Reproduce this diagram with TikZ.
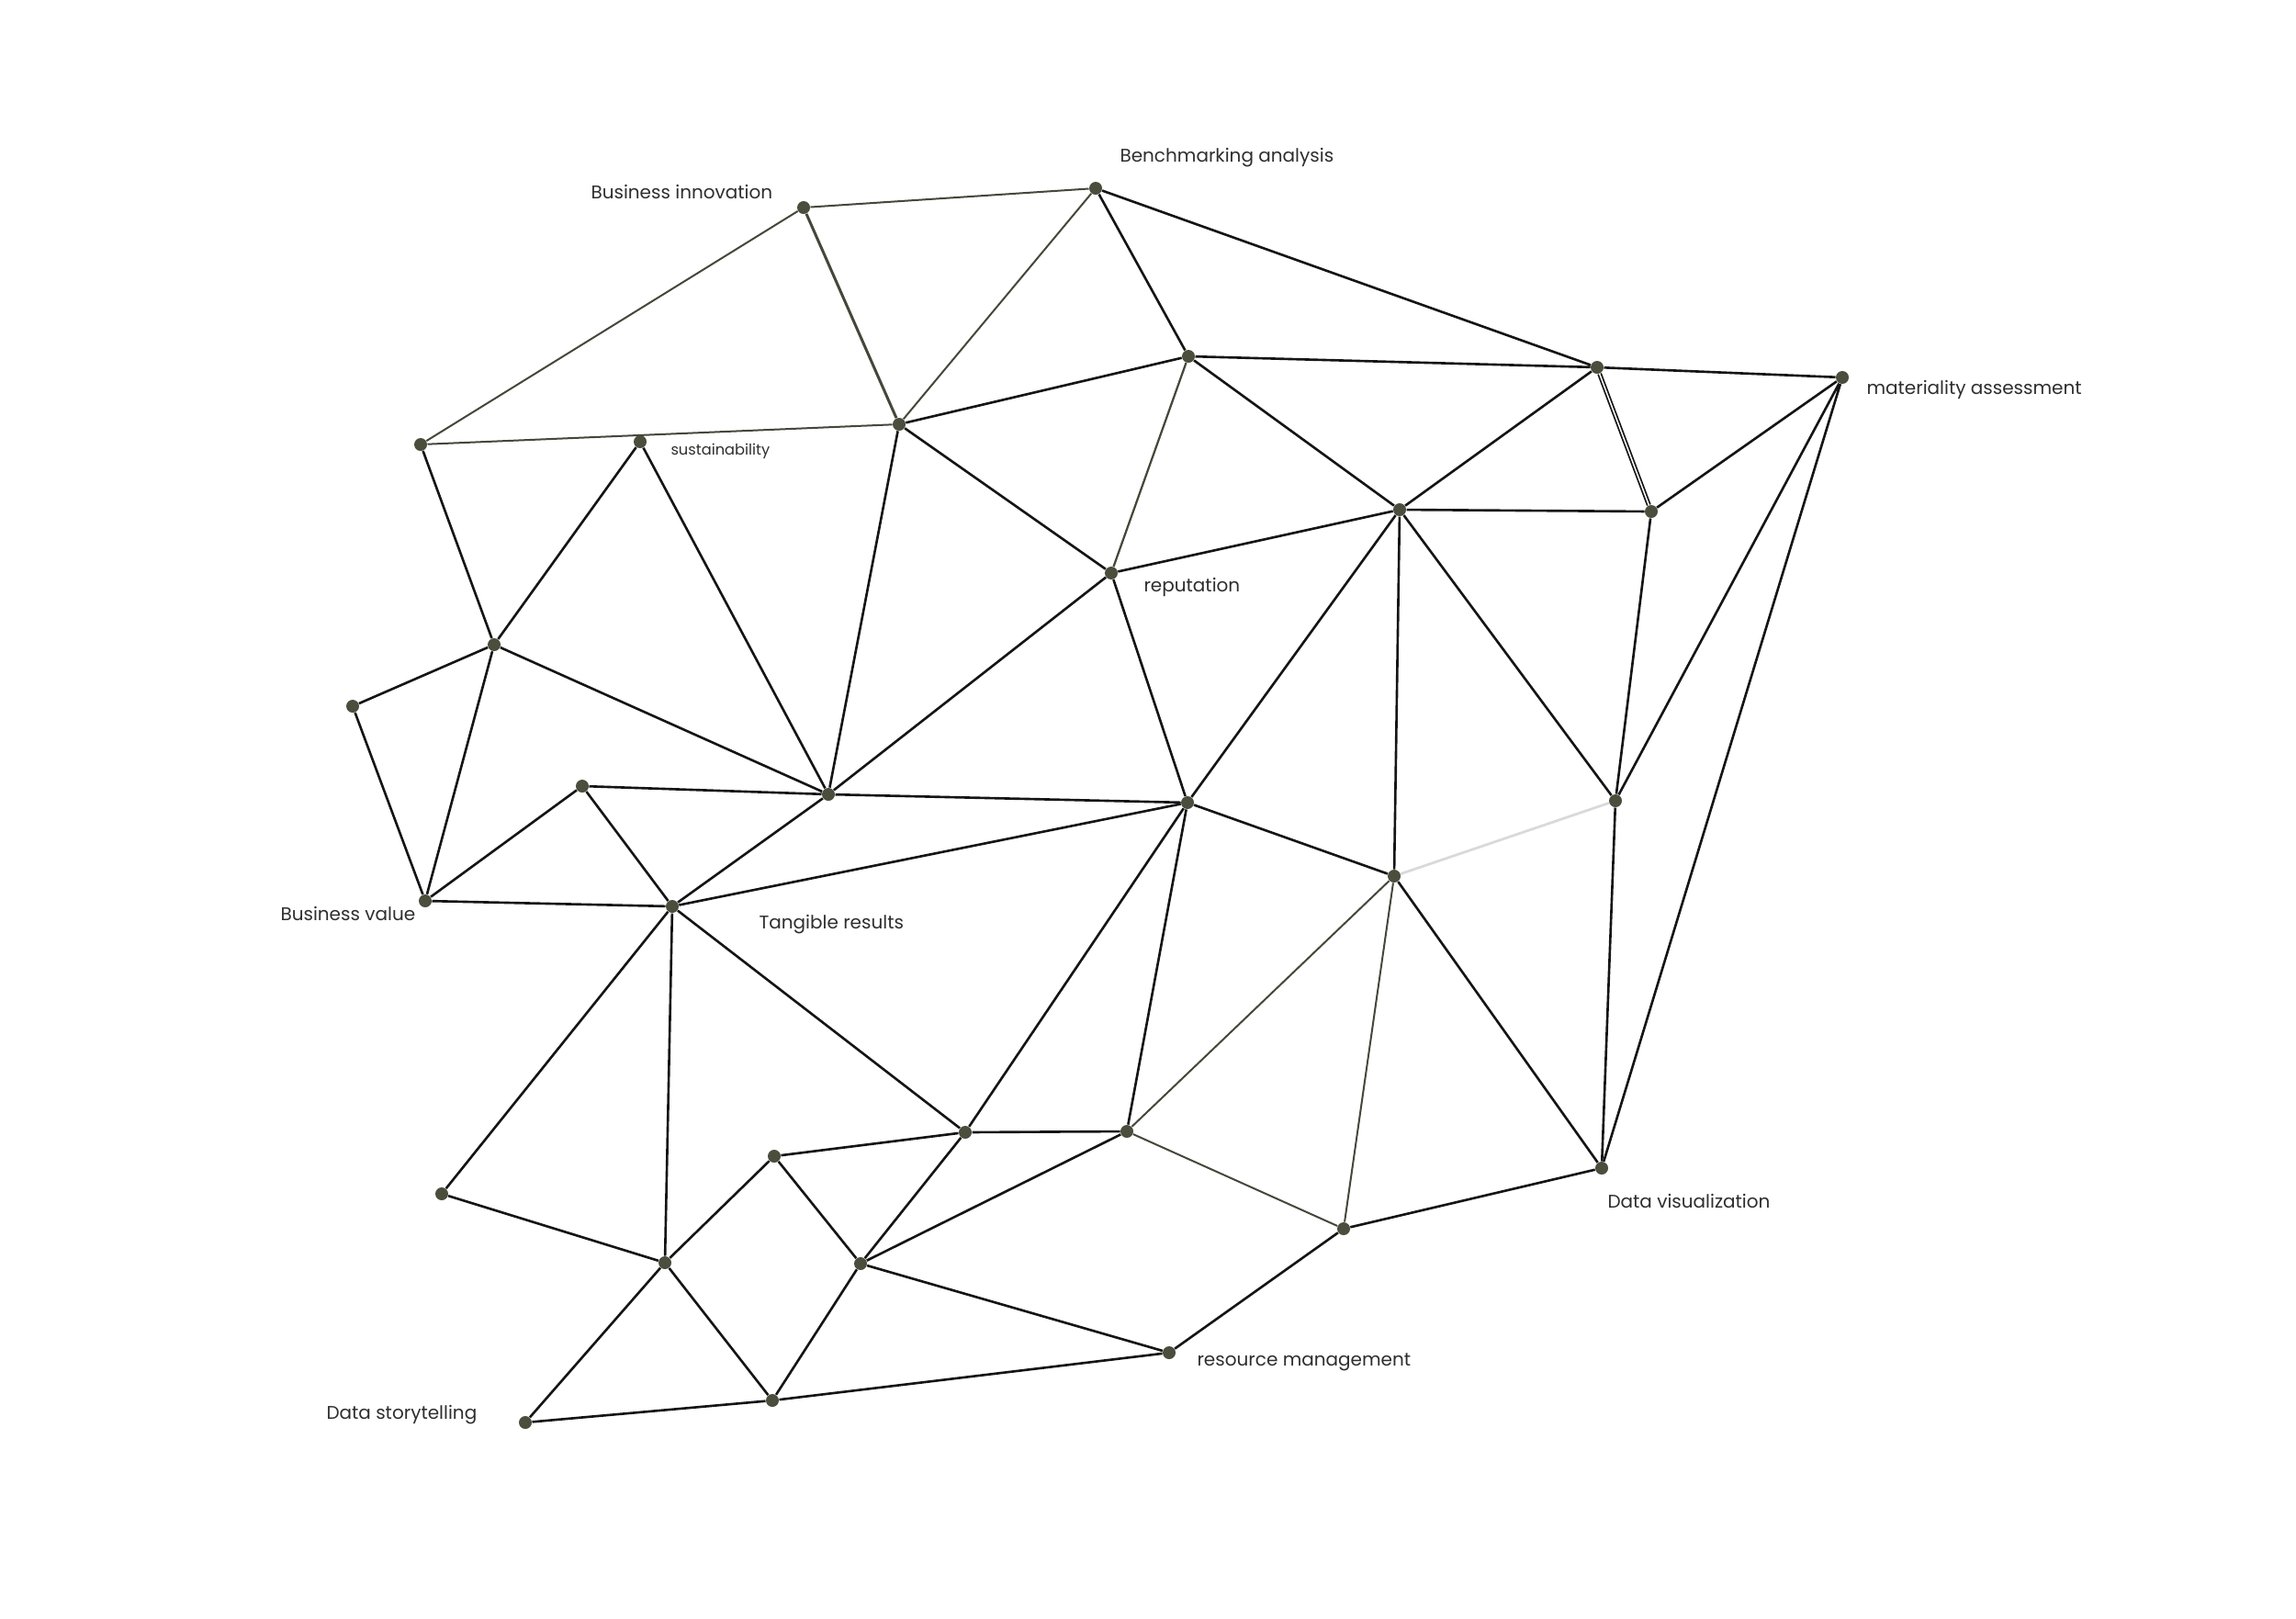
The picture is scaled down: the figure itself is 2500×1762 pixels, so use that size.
\documentclass[tikz,border=0pt]{standalone}
\usepackage{fontspec}
\setmainfont{Poppins}
\usepackage{tikz}

\definecolor{dotc}{HTML}{4B4E3C}
\definecolor{olivec}{HTML}{45473A}
\definecolor{inkc}{HTML}{151515}
\definecolor{textc}{HTML}{2E2E2E}

\begin{document}
\begin{tikzpicture}[x=0.4pt,y=-0.4pt,
    dot/.style={circle,fill=dotc,inner sep=0pt,minimum size=5.6pt},
    lbl/.style={anchor=west,inner sep=0pt,text=textc,font=\fontsize{8}{9}\selectfont},
    edge/.style={draw=inkc,line width=1.05pt},
    oedge/.style={draw=olivec,line width=0.8pt}]
    %
    \useasboundingbox (0,0) rectangle (2500,1762);
    % points
    \node[dot] (innov) at (875,226) {};
    \node[dot] (bench) at (1193,205) {};
    \node[dot] (p3) at (1294,388) {};
    \node[dot] (p4) at (1739,400) {};
    \node[dot] (mater) at (2006,411) {};
    \node[dot] (p6) at (458,484) {};
    \node[dot] (sust) at (697,481) {};
    \node[dot] (p8) at (979,462) {};
    \node[dot] (p9) at (1524,555) {};
    \node[dot] (p10) at (1798,557) {};
    \node[dot] (reput) at (1210,624) {};
    \node[dot] (p12) at (538,702) {};
    \node[dot] (p13) at (384,769) {};
    \node[dot] (p14) at (634,856) {};
    \node[dot] (p15) at (902,865) {};
    \node[dot] (p16) at (1293,874) {};
    \node[dot] (p17) at (1759,872) {};
    \node[dot] (p18) at (1518,954) {};
    \node[dot] (bval) at (463,981) {};
    \node[dot] (tang) at (732,987) {};
    \node[dot] (p21) at (1051,1233) {};
    \node[dot] (p22) at (1227,1232) {};
    \node[dot] (p23) at (843,1259) {};
    \node[dot] (dvis) at (1744,1272) {};
    \node[dot] (p25) at (481,1300) {};
    \node[dot] (p26) at (1463,1338) {};
    \node[dot] (p27) at (724,1375) {};
    \node[dot] (p28) at (937,1376) {};
    \node[dot] (resm) at (1273,1473) {};
    \node[dot] (p30) at (841,1525) {};
    \node[dot] (dstory) at (572,1549) {};

    % labels
    \node[lbl] (l_innov) at (643,209) {Business innovation};
    \node[lbl] (l_bench) at (1219,172) {Benchmarking analysis};
    \node[lbl] (l_mater) at (2032,424) {materiality assessment};
    \node[lbl,font=\fontsize{6.5}{7.5}\selectfont] (l_sust) at (730,491) {sustainability};
    \node[lbl] (l_reput) at (1245,639) {reputation};
    \node[lbl] (l_bval) at (305,995) {Business value};
    \node[lbl] (l_tang) at (826,1007) {Tangible results};
    \node[lbl] (l_dvis) at (1750,1308) {Data visualization};
    \node[lbl] (l_resm) at (1303,1483) {resource management};
    \node[lbl] (l_dstory) at (355,1541) {Data storytelling};

    % olive links
    \draw[oedge] (innov) -- (bench) (innov) -- (p6) (bench) -- (p8) (p6) -- (p8);
    \draw[oedge,line width=1.2pt] (innov) -- (p8);
    \draw[oedge] (p18) -- (p22) (p18) -- (p26) (p22) -- (p26);
    \draw[oedge,line width=0.9pt] (p3) -- (reput);
    \draw[draw=black!15,line width=1.1pt] (p17) -- (p18);
    \draw[inkc,line width=0.7pt,double=white,double distance=0.6pt] (p4) -- (p10);

    % black links
    \draw[edge] (bench) -- (p3) (bench) -- (p4) (p8) -- (p3) (p8) -- (reput) (p8) -- (p15)
        (p3) -- (p4) (p3) -- (p9) (p4) -- (mater) (p4) -- (p9)
        (mater) -- (p10) (mater) -- (p17) (mater) -- (dvis);
    \draw[edge] (p9) -- (p10) (p9) -- (reput) (p9) -- (p16) (p9) -- (p18) (p9) -- (p17)
        (p10) -- (p17) (reput) -- (p15) (reput) -- (p16);
    \draw[edge] (p6) -- (p12) (sust) -- (p12) (sust) -- (p15) (p12) -- (p13) (p12) -- (bval)
        (p12) -- (p15) (p13) -- (bval) (p14) -- (bval) (p14) -- (p15) (p14) -- (tang)
        (p15) -- (p16) (p15) -- (tang) (bval) -- (tang);
    \draw[edge] (tang) -- (p16) (tang) -- (p25) (tang) -- (p27) (tang) -- (p21)
        (p16) -- (p18) (p16) -- (p21) (p16) -- (p22) (p17) -- (dvis) (p18) -- (dvis);
    \draw[edge] (p21) -- (p22) (p21) -- (p28) (p22) -- (p28) (p23) -- (p21) (p23) -- (p27)
        (p23) -- (p28) (p25) -- (p27) (p27) -- (p30) (p27) -- (dstory) (p28) -- (p30)
        (p28) -- (resm) (p26) -- (dvis) (p26) -- (resm) (p30) -- (resm) (p30) -- (dstory);

\end{tikzpicture}
\end{document}
